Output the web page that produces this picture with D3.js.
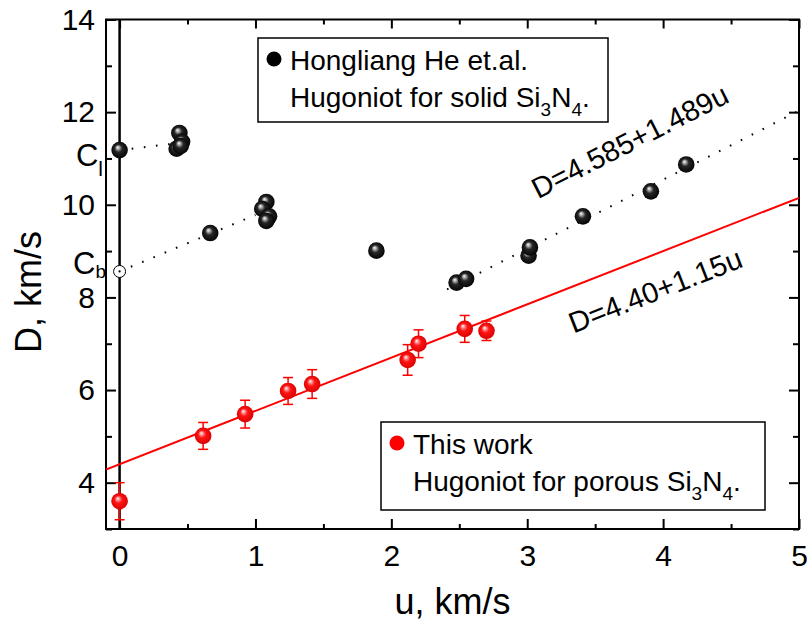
<!DOCTYPE html>
<html>
<head>
<meta charset="utf-8">
<script src="https://cdn.jsdelivr.net/npm/d3@7/dist/d3.min.js"></script>
<style>
  html, body { margin: 0; padding: 0; background: #fff; }
  svg { display: block; font-family: "Liberation Sans", Arial, sans-serif; }
</style>
</head>
<body>
<svg id="chart" width="807" height="628"></svg>
<script>
// Hugoniot data for Si3N4: shock velocity D vs particle velocity u (km/s)

// Hongliang He et al., solid Si3N4
const solidU = [0, 0.44, 0.42, 0.46, 0.45, 0.667, 1.08, 1.05, 1.10, 1.08, 1.89, 2.48, 2.55, 3.01, 3.02, 3.41, 3.91, 4.17];
const solidD = [11.18, 11.55, 11.21, 11.36, 11.27, 9.39, 10.06, 9.91, 9.75, 9.65, 9.01, 8.32, 8.40, 8.90, 9.08, 9.75, 10.29, 10.87];

// This work, porous Si3N4 (with D uncertainty)
const porousU = [0, 0.615, 0.924, 1.24, 1.417, 2.12, 2.20, 2.54, 2.70];
const porousD = [3.6, 5.01, 5.48, 5.98, 6.13, 6.65, 7.00, 7.32, 7.28];
const porousErr = [0.4, 0.29, 0.30, 0.29, 0.31, 0.33, 0.30, 0.29, 0.21];

// Bulk sound speed intercept C_b (open marker)
const cbU = [0];
const cbD = [8.56];

// Dotted guide segments [u, D]
const guideLow = [[0, 11.18], [0.43, 11.33]];
const guideMid = [[0, 8.56], [1.0, 9.78]];

// Linear fits D = a + b*u
const fitSolid = { a: 4.585, b: 1.489, from: 2.41, to: 4.99 };
const fitPorous = { a: 4.40, b: 1.15, from: -0.1, to: 5.0 };

// Axis ticks
const xMajor = [0, 1, 2, 3, 4, 5];
const xMinor = [0.5, 1.5, 2.5, 3.5, 4.5];
const yMajor = [4, 6, 8, 10, 12, 14];
const yMinor = [3, 5, 7, 9, 11, 13];

const svg = d3.select("#chart");
const L = 106, R = 799, T = 19.5, B = 529;
const x = d3.scaleLinear().domain([-0.1, 5]).range([L, R]);
const y = d3.scaleLinear().domain([3, 14]).range([B, T]);

const defs = svg.append("defs");
function sphere(id, stops) {
  const g = defs.append("radialGradient").attr("id", id)
    .attr("cx", "0.5").attr("cy", "0.5").attr("r", "0.55")
    .attr("fx", "0.38").attr("fy", "0.32");
  stops.forEach(s => g.append("stop").attr("offset", s[0]).attr("stop-color", s[1]));
}
sphere("ballBlack", [[0, "#ffffff"], [0.16, "#b0b0b0"], [0.42, "#262626"], [1, "#000000"]]);
sphere("ballRed", [[0, "#ffffff"], [0.16, "#ff9c9c"], [0.42, "#ff1414"], [1, "#d40000"]]);
defs.append("clipPath").attr("id", "plotClip")
  .append("rect").attr("x", L).attr("y", T).attr("width", R - L).attr("height", B - T);

const tickFont = 30;
const textFont = 28;

// Axes with inward ticks
function styleAxis(g) {
  g.select(".domain").remove();
  g.selectAll(".tick line").attr("stroke", "#000").attr("stroke-width", 2);
  g.selectAll(".tick text").attr("font-size", tickFont).attr("fill", "#000")
    .attr("font-family", "\"Liberation Sans\", Arial, sans-serif");
}
svg.append("g").attr("transform", `translate(0,${B})`)
  .call(d3.axisBottom(x).tickValues(xMajor).tickSize(-10).tickPadding(16).tickFormat(d3.format("d")))
  .call(styleAxis);
svg.append("g").attr("transform", `translate(0,${B})`)
  .call(d3.axisBottom(x).tickValues(xMinor).tickSize(-5).tickFormat(""))
  .call(styleAxis);
svg.append("g").attr("transform", `translate(0,${T})`)
  .call(d3.axisTop(x).tickValues(xMajor).tickSize(-9).tickFormat(""))
  .call(styleAxis);
svg.append("g").attr("transform", `translate(0,${T})`)
  .call(d3.axisTop(x).tickValues(xMinor).tickSize(-5).tickFormat(""))
  .call(styleAxis);
svg.append("g").attr("transform", `translate(${L},0)`)
  .call(d3.axisLeft(y).tickValues(yMajor).tickSize(-10).tickPadding(11).tickFormat(d3.format("d")))
  .call(styleAxis);
svg.append("g").attr("transform", `translate(${L},0)`)
  .call(d3.axisLeft(y).tickValues(yMinor).tickSize(-6).tickFormat(""))
  .call(styleAxis);
svg.append("g").attr("transform", `translate(${R},0)`)
  .call(d3.axisRight(y).tickValues(yMajor).tickSize(-10).tickFormat(""))
  .call(styleAxis);
svg.append("g").attr("transform", `translate(${R},0)`)
  .call(d3.axisRight(y).tickValues(yMinor).tickSize(-6).tickFormat(""))
  .call(styleAxis);

// Frame
svg.append("rect").attr("x", L).attr("y", T).attr("width", R - L).attr("height", B - T)
  .attr("fill", "none").attr("stroke", "#000").attr("stroke-width", 2);

// u = 0 line
svg.append("line").attr("x1", x(0)).attr("x2", x(0)).attr("y1", T).attr("y2", B)
  .attr("stroke", "#000").attr("stroke-width", 2.5);

const plot = svg.append("g").attr("clip-path", "url(#plotClip)");
const line = d3.line().x(d => x(d[0])).y(d => y(d[1]));

// Dotted guides
const dotted = [guideLow, guideMid,
  [[fitSolid.from, fitSolid.a + fitSolid.b * fitSolid.from], [fitSolid.to, fitSolid.a + fitSolid.b * fitSolid.to]]];
dotted.forEach(seg => {
  plot.append("path").attr("d", line(seg)).attr("fill", "none")
    .attr("stroke", "#000").attr("stroke-width", 2).attr("stroke-dasharray", "1.6 10.6");
});

// Porous fit line
plot.append("path")
  .attr("d", line([[fitPorous.from, fitPorous.a + fitPorous.b * fitPorous.from],
                   [fitPorous.to, fitPorous.a + fitPorous.b * fitPorous.to]]))
  .attr("fill", "none").attr("stroke", "#ff0000").attr("stroke-width", 2);

// Error bars
const porous = porousU.map((u, i) => ({ u, d: porousD[i], e: porousErr[i] }));
const eb = svg.append("g").attr("stroke", "#ff0000").attr("stroke-width", 1.5);
porous.forEach(p => {
  const cx = x(p.u), y1 = y(p.d + p.e), y2 = y(p.d - p.e);
  eb.append("line").attr("x1", cx).attr("x2", cx).attr("y1", y1).attr("y2", y2);
  eb.append("line").attr("x1", cx - 5).attr("x2", cx + 5).attr("y1", y1).attr("y2", y1);
  eb.append("line").attr("x1", cx - 5).attr("x2", cx + 5).attr("y1", y2).attr("y2", y2);
});

// Markers
svg.append("g").selectAll("circle").data(solidU.map((u, i) => [u, solidD[i]])).join("circle")
  .attr("cx", d => x(d[0])).attr("cy", d => y(d[1])).attr("r", 8.3)
  .attr("fill", "url(#ballBlack)");
svg.append("g").selectAll("circle").data(porous).join("circle")
  .attr("cx", d => x(d.u)).attr("cy", d => y(d.d)).attr("r", 8.3)
  .attr("fill", "url(#ballRed)");
cbU.forEach((u, i) => {
  svg.append("circle").attr("cx", x(u)).attr("cy", y(cbD[i])).attr("r", 6)
    .attr("fill", "#fff").attr("stroke", "#000").attr("stroke-width", 1);
  svg.append("circle").attr("cx", x(u)).attr("cy", y(cbD[i])).attr("r", 1.1).attr("fill", "#000");
});

// Intercept labels C_l and C_b
function subLabel(px, py, main, sub, drop, subSize) {
  const t = svg.append("text").attr("x", px).attr("y", py).attr("font-size", 31).attr("text-anchor", "end");
  t.append("tspan").text(main);
  t.append("tspan").attr("font-size", subSize).attr("dy", drop).text(sub);
}
subLabel(103, 166, "C", "l", 10, 21);
subLabel(106, 274, "C", "b", 4, 19);

// Fit annotations, rotated along their lines
function angleOf(b) {
  return -Math.atan((b * (y(0) - y(1))) / (x(1) - x(0))) * 180 / Math.PI;
}
function annot(u, d, b, txt) {
  svg.append("text").attr("transform", `translate(${x(u)},${y(d)}) rotate(${angleOf(b)})`)
    .attr("font-size", 29).text(txt);
}
annot(3.08, 10.12, fitSolid.b, "D=4.585+1.489u");
annot(3.34, 7.22, fitPorous.b, "D=4.40+1.15u");

// Legends
function legend(bx, by, bw, bh, color, line1, line2) {
  svg.append("rect").attr("x", bx).attr("y", by).attr("width", bw).attr("height", bh)
    .attr("fill", "#fff").attr("stroke", "#000").attr("stroke-width", 1.5);
  svg.append("circle").attr("cx", bx + 16).attr("cy", by + 21).attr("r", 7.5).attr("fill", color);
  svg.append("text").attr("x", bx + 32).attr("y", by + 32).attr("font-size", textFont).text(line1);
  const t = svg.append("text").attr("x", bx + 32).attr("y", by + 69).attr("font-size", textFont);
  t.append("tspan").text(line2);
  t.append("tspan").attr("font-size", 19).attr("dy", 9).text("3");
  t.append("tspan").attr("font-size", textFont).attr("dy", -9).text("N");
  t.append("tspan").attr("font-size", 19).attr("dy", 9).text("4");
  t.append("tspan").attr("font-size", textFont).attr("dy", -9).text(".");
}
legend(258, 38, 350, 84, "#000", "Hongliang He et.al.", "Hugoniot for solid Si");
legend(381, 422, 384, 88, "#ff0000", "This work", "Hugoniot for porous Si");

// Axis titles
svg.append("text").attr("x", (L + R) / 2).attr("y", 614).attr("text-anchor", "middle")
  .attr("font-size", 36).text("u, km/s");
svg.append("text").attr("transform", `translate(41,292) rotate(-90)`).attr("text-anchor", "middle")
  .attr("font-size", 36).text("D, km/s");
</script>
</body>
</html>
